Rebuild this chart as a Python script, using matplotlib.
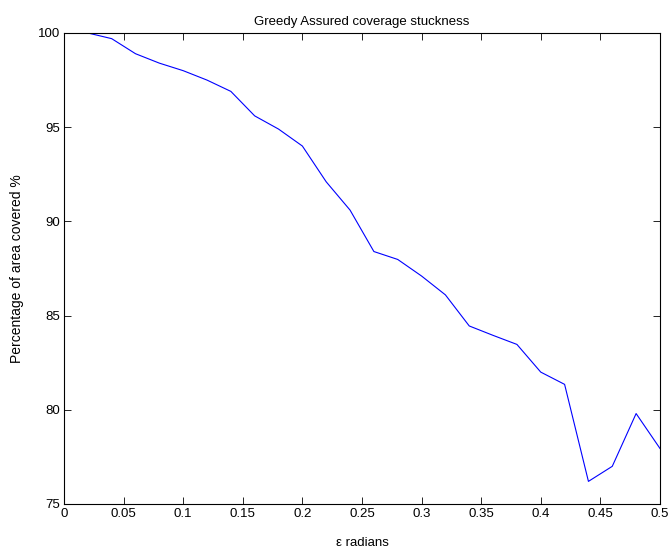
import numpy as np
import matplotlib
matplotlib.use("Agg")
import matplotlib.pyplot as plt

plt.rcParams['font.family'] = ['Liberation Sans', 'DejaVu Sans']

eps = [0, 0.02, 0.04, 0.06, 0.08, 0.1, 0.12, 0.14, 0.16, 0.18, 0.2, 0.22, 0.24,
       0.26, 0.28, 0.3, 0.32, 0.34, 0.36, 0.38, 0.4, 0.42, 0.44, 0.46, 0.48, 0.5]
coverage = [100, 100, 99.7, 98.9, 98.4, 98.0, 97.5, 96.9, 95.6, 94.9, 94.0, 92.1, 90.6,
            88.4, 87.98, 87.1, 86.1, 84.45, 83.95, 83.47, 82.0, 81.35, 76.2, 77.0, 79.8, 77.95]
xticks = [0, 0.05, 0.1, 0.15, 0.2, 0.25, 0.3, 0.35, 0.4, 0.45, 0.5]
xticklabels = ["0", "0.05", "0.1", "0.15", "0.2", "0.25", "0.3", "0.35", "0.4", "0.45", "0.5"]
yticks = [75, 80, 85, 90, 95, 100]

fig = plt.figure(figsize=(6.7, 5.48), dpi=100)
ax = fig.add_axes([0.0955, 0.0803, 0.8895, 0.8595])
ax.plot(eps, coverage, color="blue", linewidth=0.8)
ax.set_xlim(0, 0.5)
ax.set_ylim(75, 100)
ax.set_xticks(xticks)
ax.set_xticklabels(xticklabels)
ax.set_yticks(yticks)
ax.tick_params(direction="in", top=True, right=True, labelsize=9.5, length=5, width=0.6, pad=3)
for s in ax.spines.values():
    s.set_linewidth(0.8)
ax.set_title("Greedy Assured coverage stuckness", fontsize=9.5, pad=6)
ax.set_xlabel("ε radians", fontsize=9.5, labelpad=12)
ax.set_ylabel("Percentage of area covered %", fontsize=10, labelpad=10)
fig.savefig("out.png", dpi=100)
